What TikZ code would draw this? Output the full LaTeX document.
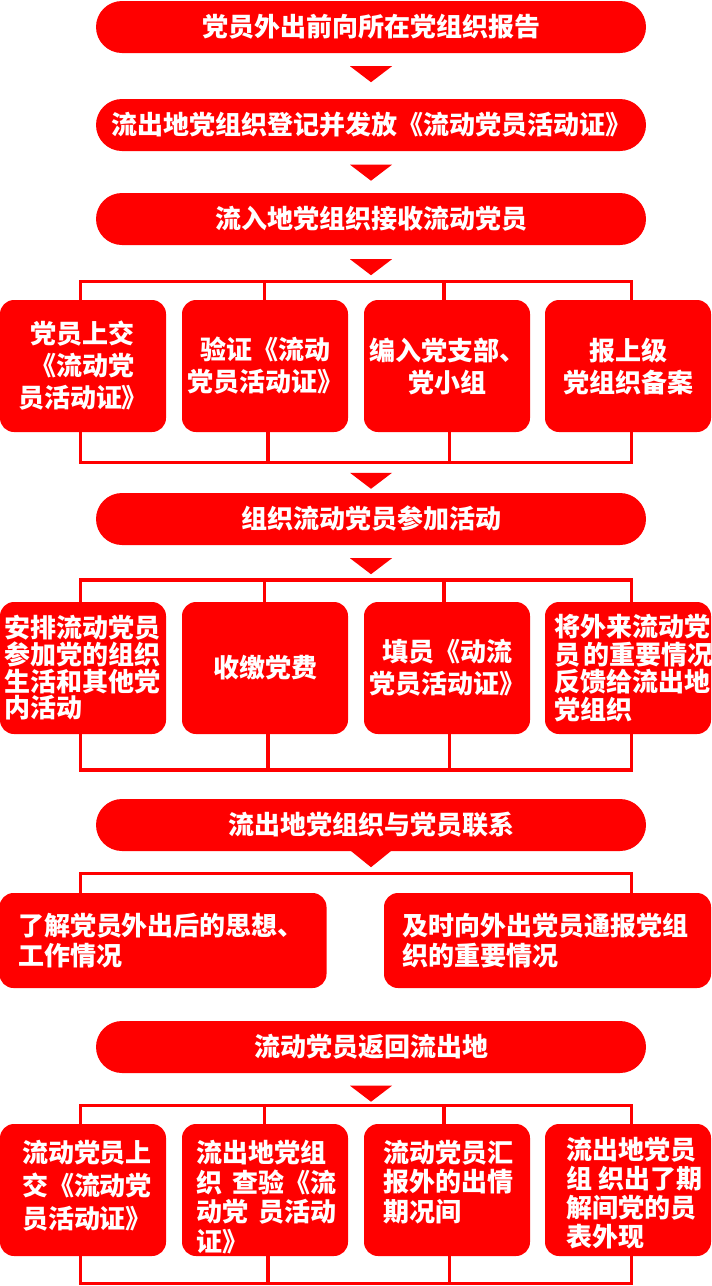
\documentclass[tikz,border=0pt]{standalone}
\usepackage{fontspec}
\newfontfamily\cjk{Noto Sans CJK SC}
\usetikzlibrary{calc}
\definecolor{red0}{HTML}{FF0000}
\begin{document}
\begin{tikzpicture}[x=1pt,y=-1pt,
 txt/.style={text=white, font=\cjk\bfseries\fontsize{26}{#1}\selectfont},
 pill/.style={fill=red0, rounded corners=26pt, minimum width=550pt, minimum height=52pt, inner sep=0pt, txt=32},
 box/.style={fill=red0, rounded corners=14pt, minimum width=166pt, minimum height=132pt, inner sep=0pt, align=center, txt=32},
 wbox/.style={box, minimum width=327pt, minimum height=95pt},
 conn/.style={draw=red0, line width=3.5pt},
 tri/.style={fill=red0},
]
\fill[white] (0,0) rectangle (712,1286);
\useasboundingbox (0,0) rectangle (712,1286);

\node[pill] (p1) at (371,27) {党员外出前向所在党组织报告};
\node[pill] (p2) at (371,125) {流出地党组织登记并发放《流动党员活动证》};
\node[pill] (p3) at (371,219) {流入地党组织接收流动党员};

\node[box] (r1a) at (83,366) {党员上交\\《流动党\\员活动证》};
\node[box] (r1b) at (265,366) {验证《流动\\党员活动证》};
\node[box] (r1c) at (447,366) {编入党支部、\\党小组};
\node[box] (r1d) at (628,366) {报上级\\党组织备案};

\node[pill] (p4) at (371,519) {组织流动党员参加活动};

\node[box, align=left, text width=156pt, txt=26.7] (r2a) at (83,668) {安排流动党员\\参加党的组织\\生活和其他党\\内活动};
\node[box] (r2b) at (265,668) {收缴党费};
\node[box] (r2c) at (447,668) {填员《动流\\党员活动证》};
\node[box, align=left, text width=148pt, txt=27.5] (r2d) at (628,668) {将外来流动党\\员\kern0.15em 的重要情况\\反馈给流出地\\党组织};

\node[pill] (p5) at (371,825) {流出地党组织与党员联系};

\node[wbox, align=left, text width=290pt, txt=30] (r3a) at (163,940.5) {了解党员外出后的思想、\\工作情况};
\node[wbox, align=left, text width=291pt, txt=30] (r3b) at (547.5,940.5) {及时向外出党员通报党组\\织的重要情况};

\node[pill] (p6) at (371,1047) {流动党员返回流出地};

\node[box, align=left, text width=122pt, txt=33] (r4a) at (83,1190) {流动党员上\\交《流动党\\员活动证》\rule[-11pt]{0pt}{11pt}};
\node[box, align=left, text width=138pt, txt=29.5] (r4b) at (265,1190) {\rule{0pt}{36pt}流出地党组\\织\kern0.4em 查验《流\\动党\kern0.4em 员活动\\证》};
\node[box, align=left, text width=128pt, txt=29.5] (r4c) at (447,1190) {流动党员汇\\报外的出情\\期况间\rule[-19pt]{0pt}{19pt}};
\node[box, align=left, text width=124pt, txt=29] (r4d) at (628,1190) {\rule{0pt}{28pt}流出地党员\\组\kern0.25em 织出了期\\解间党的员\\表外现};

% arrows
\fill[tri] ($(p1.south)+(-21,13)$) -- ++(42,0) -- ++(-21,16) -- cycle;
\fill[tri] ($(p2.south)+(-21,13.5)$) -- ++(42,0) -- ++(-21,16) -- cycle;
\fill[tri] ($(p3.south)+(-21,14)$) -- ++(42,0) -- ++(-21,16) -- cycle;
\fill[tri] ($(p4.north)+(-21,-20)$) -- ++(42,0) -- ++(-21,16) -- cycle;
\fill[tri] ($(p4.south)+(-21,13)$) -- ++(42,0) -- ++(-21,16) -- cycle;
\fill[tri] ($(p5.south)+(-21,-1)$) -- ++(42,0) -- ++(-21,17) -- cycle;
\fill[tri] ($(p6.south)+(-21,12.5)$) -- ++(42,0) -- ++(-21,16) -- cycle;

% bracket row 1
\draw[conn] ($(r1a.north)+(-2.5,0)$) -- ++(0,-18.5) -| ($(r1d.north)+(3.5,0)$);
\draw[conn] ($(r1b.north)+(-0.5,0)$) -- ++(0,-18.5);
\draw[conn] ($(r1c.north)+(-3,0)$) -- ++(0,-18.5);
\draw[conn] ($(r1a.south)+(-2.5,0)$) -- ++(0,30.5) -| ($(r1d.south)+(3.5,0)$);
\draw[conn] ($(r1b.south)+(3,0)$) -- ++(0,30.5);
\draw[conn] ($(r1c.south)+(2.5,0)$) -- ++(0,30.5);

% bracket row 2
\draw[conn] ($(r2a.north)+(-2.5,0)$) -- ++(0,-22) -| ($(r2d.north)+(3.5,0)$);
\draw[conn] ($(r2b.north)+(-0.5,0)$) -- ++(0,-22);
\draw[conn] ($(r2c.north)+(-3,0)$) -- ++(0,-22);
\draw[conn] ($(r2a.south)+(-2.5,0)$) -- ++(0,36) -| ($(r2d.south)+(3.5,0)$);
\draw[conn] ($(r2b.south)+(3,0)$) -- ++(0,36);
\draw[conn] ($(r2c.south)+(2.5,0)$) -- ++(0,36);

% bracket row 3
\draw[conn] ($(r3a.north west)+(81,0)$) -- ++(0,-19.5) -| ($(r3b.north east)+(-79.5,0)$);

% bracket row 4
\draw[conn] ($(r4a.north)+(-2.5,0)$) -- ++(0,-18.5) -| ($(r4d.north)+(3.5,0)$);
\draw[conn] ($(r4b.north)+(-0.5,0)$) -- ++(0,-18.5);
\draw[conn] ($(r4c.north)+(-3,0)$) -- ++(0,-18.5);
\draw[conn] ($(r4a.south)+(-2.5,0)$) -- ++(0,27.5) -| ($(r4d.south)+(3.5,0)$);
\draw[conn] ($(r4b.south)+(3,0)$) -- ++(0,27.5);
\draw[conn] ($(r4c.south)+(2.5,0)$) -- ++(0,27.5);
\end{tikzpicture}
\end{document}
